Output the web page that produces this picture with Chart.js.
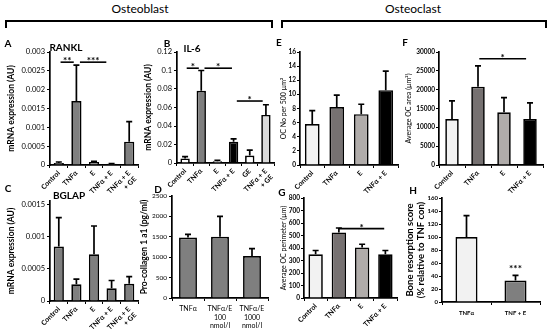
<!DOCTYPE html>
<html><head><meta charset="utf-8">
<script src="https://cdn.jsdelivr.net/npm/chart.js@4.4.0/dist/chart.umd.min.js"></script>
<style>
html,body{margin:0;padding:0;background:#fff;}
#wrap{position:relative;width:550px;height:335px;overflow:hidden;font-family:Lato,'Open Sans',sans-serif;color:#000;}
canvas{position:absolute;}
.t{position:absolute;transform:translate(-50%,-50%);white-space:nowrap;line-height:1;}
.ln{position:absolute;background:#000;}
</style></head><body><div id="wrap"></div>
<script>
// ---------------- DATA ----------------
const catsA = ['Control', 'TNFα', 'E', 'TNFα + E', ['TNFα + E', '+ GE']];
const rankl = [0.00005, 0.0017, 0.00008, 0.00003, 0.00062];
const ranklErr = [0.00003, 0.00095, 0.00002, 0.00001, 0.00053];

const catsB = ['Control', 'TNFα', 'E', 'TNFα + E', 'GE', ['TNFα + E', '+ GE']];
const il6 = [0.005, 0.078, 0.002, 0.023, 0.008, 0.052];
const il6Err = [0.002, 0.022, 0.001, 0.003, 0.006, 0.011];

const catsC = ['Control', 'TNFα', 'E', 'TNFα + E', ['TNFα + E', '+ GE']];
const bglap = [0.00085, 0.00026, 0.00073, 0.0002, 0.00027];
const bglapErr = [0.00045, 0.00008, 0.00044, 0.00012, 0.00011];

const catsD = ['TNFα', ['TNFα/E', '100', 'nmol/l'], ['TNFα/E', '1000', 'nmol/l']];
const procol = [1480, 1500, 1030];
const procolErr = [80, 500, 180];

const catsOC = ['Control', 'TNFα', 'E', 'TNFα + E'];
const ocNo = [5.8, 8.2, 7.2, 10.6];
const ocNoErr = [1.9, 1.7, 1.4, 2.7];
const ocArea = [12200, 20800, 14000, 12200];
const ocAreaErr = [4800, 5500, 3900, 4300];
const ocPerim = [350, 525, 405, 350];
const ocPerimErr = [30, 35, 25, 30];

const catsH = ['TNFα', 'TNF + E'];
const resorption = [100, 33];
const resorptionErr = [33, 8];

// significance annotations (category index range, value level, label)
const sigA = [{from: 0.1, to: 0.85, y: 0.00273, text: '**'}, {from: 1.2, to: 2.7, y: 0.00273, text: '***'}];
const sigB = [{from: 0.1, to: 0.85, y: 0.1025, text: '*'}, {from: 1.2, to: 2.9, y: 0.1025, text: '*'}, {from: 3.2, to: 4.8, y: 0.067, text: '*'}];
const sigF = [{from: 1.05, to: 2.85, y: 28200, text: '*'}];
const sigG = [{from: 1.0, to: 2.95, y: 555, text: '*'}];
const sigH = [{at: 1, y: 50, text: '***'}];

// ---------------- HELPERS ----------------
const FONT = "Lato, 'Open Sans', sans-serif";
Chart.defaults.font.family = FONT;
Chart.defaults.color = '#000';
const wrap = document.getElementById('wrap');

function txt(s, x, y, size, bold, extra) {
  const d = document.createElement('div');
  d.className = 't';
  d.textContent = s;
  d.style.left = x + 'px'; d.style.top = y + 'px';
  d.style.fontSize = size + 'px';
  d.style.fontWeight = bold ? '700' : '400';
  if (extra) Object.assign(d.style, extra);
  wrap.appendChild(d);
}
function line(x, y, w, h) {
  const d = document.createElement('div');
  d.className = 'ln';
  d.style.left = x + 'px'; d.style.top = y + 'px';
  d.style.width = w + 'px'; d.style.height = h + 'px';
  wrap.appendChild(d);
}

function makeChart(o) {
  const c = document.createElement('canvas');
  c.width = o.box.w; c.height = o.box.h;
  c.style.left = o.box.l + 'px'; c.style.top = o.box.t + 'px';
  c.style.width = o.box.w + 'px'; c.style.height = o.box.h + 'px';
  wrap.appendChild(c);
  const errPlugin = {
    id: 'errbars',
    afterDatasetsDraw(chart) {
      const ctx = chart.ctx, ys = chart.scales.y;
      const meta = chart.getDatasetMeta(0);
      ctx.save();
      ctx.strokeStyle = '#000'; ctx.lineWidth = 1.7;
      meta.data.forEach((el, i) => {
        const top = ys.getPixelForValue(o.values[i] + o.err[i]);
        ctx.beginPath();
        ctx.moveTo(el.x, el.y); ctx.lineTo(el.x, top);
        ctx.moveTo(el.x - o.cap, top); ctx.lineTo(el.x + o.cap, top);
        ctx.stroke();
      });
      ctx.restore();
    }
  };
  const sigPlugin = {
    id: 'sig',
    afterDraw(chart) {
      if (!o.sig) return;
      const ctx = chart.ctx, xs = chart.scales.x, ys = chart.scales.y;
      ctx.save();
      ctx.strokeStyle = '#000'; ctx.fillStyle = '#000'; ctx.lineWidth = 1.6;
      ctx.font = '700 10px ' + FONT; ctx.textAlign = 'center'; ctx.textBaseline = 'alphabetic';
      o.sig.forEach(s => {
        const y = ys.getPixelForValue(s.y);
        let cx;
        if (s.at !== undefined) {
          cx = xs.getPixelForValue(s.at);
        } else {
          const x1 = xs.getPixelForValue(s.from), x2 = xs.getPixelForValue(s.to);
          ctx.beginPath(); ctx.moveTo(x1, y); ctx.lineTo(x2, y); ctx.stroke();
          cx = (x1 + x2) / 2;
        }
        ctx.fillText(s.text, cx, y + 2);
      });
      ctx.restore();
    }
  };
  return new Chart(c, {
    type: 'bar',
    data: {
      labels: o.labels,
      datasets: [{
        data: o.values,
        backgroundColor: o.colors,
        borderColor: '#000',
        borderWidth: 1.7,
        categoryPercentage: 1,
        barPercentage: o.barPct
      }]
    },
    options: {
      responsive: false,
      animation: false,
      events: [],
      layout: {padding: {top: o.box.pt, right: o.box.pr, left: 0, bottom: 0}},
      plugins: {legend: {display: false}, tooltip: {enabled: false}},
      scales: {
        x: {
          type: 'category',
          grid: {display: true, drawOnChartArea: false, tickLength: 3, color: '#000', lineWidth: 1},
          border: {display: true, color: '#000', width: 1.7},
          ticks: {
            autoSkip: false,
            minRotation: o.rot, maxRotation: o.rot,
            padding: o.xpad !== undefined ? o.xpad : 1,
            font: o.xfont,
            color: '#000'
          },
          afterFit(s) { s.height = o.box.xh; s.paddingLeft = 0; s.paddingRight = 0; }
        },
        y: {
          min: 0, max: o.max,
          grid: {display: true, drawOnChartArea: false, tickLength: 3, color: '#000', lineWidth: 1},
          border: {display: true, color: '#000', width: 1.7},
          ticks: {
            stepSize: o.step,
            padding: o.ypad !== undefined ? o.ypad : 2,
            font: o.yfont,
            color: '#000',
            callback: v => String(+Number(v).toFixed(6))
          },
          afterBuildTicks(s) {
            const t = [];
            for (let k = 0; k * o.step <= o.max * (1 + 1e-9); k++) t.push({value: +(k * o.step).toFixed(8)});
            s.ticks = t;
          },
          title: {display: true, text: o.title, font: o.tfont, padding: {top: o.tpad, bottom: 0}, color: '#000'},
          afterFit(s) { s.width = o.box.yw; s.paddingTop = 0; s.paddingBottom = 0; }
        }
      }
    },
    plugins: [errPlugin, sigPlugin]
  });
}

// ---------------- COLOURS ----------------
const G = '#7f7f7f', W = '#ffffff', LG = '#d9d9d9', K = '#000000';
const OC = ['#f2f2f2', '#767171', '#b0acaa', '#000000'];

// ---------------- HEADINGS ----------------
txt('Osteoblast', 140, 9, 12, false);
line(5, 20, 268, 2); line(5, 20, 2, 8); line(271, 20, 2, 8);
txt('Osteoclast', 413, 9, 12, false);
line(281, 20, 266, 2); line(281, 20, 2, 8); line(545, 20, 2, 8);

// ---------------- PANELS ----------------
makeChart({
  box: {l: 0, t: 46, w: 140, h: 157, yw: 50, xh: 38, pt: 6, pr: 2},
  labels: catsA, values: rankl, err: ranklErr, colors: [G, G, G, G, G], barPct: 0.58, cap: 3,
  max: 0.003, step: 0.0005, rot: 45,
  xfont: {size: 7, weight: '700'}, yfont: {size: 7.5},
  title: 'mRNA expression (AU)', tfont: {size: 8.5, weight: '700'}, tpad: 6, sig: sigA
});
makeChart({
  box: {l: 137, t: 46, w: 139, h: 157, yw: 40, xh: 40, pt: 6, pr: 2},
  labels: catsB, values: il6, err: il6Err, colors: [W, G, W, K, W, LG], barPct: 0.58, cap: 3,
  max: 0.12, step: 0.02, rot: 45,
  xfont: {size: 7, weight: '700'}, yfont: {size: 7.5},
  title: 'mRNA expression (AU)', tfont: {size: 8.5, weight: '700'}, tpad: 6, sig: sigB
});
makeChart({
  box: {l: 0, t: 195, w: 140, h: 140, yw: 50, xh: 34, pt: 6, pr: 2},
  labels: catsC, values: bglap, err: bglapErr, colors: [G, G, G, G, G], barPct: 0.58, cap: 3,
  max: 0.00156, step: 0.0005, rot: 45,
  xfont: {size: 7, weight: '700'}, yfont: {size: 7.5},
  title: 'mRNA expression (AU)', tfont: {size: 8.5, weight: '700'}, tpad: 6
});
makeChart({
  box: {l: 137, t: 190, w: 136, h: 145, yw: 35, xh: 37, pt: 6, pr: 5},
  labels: catsD, values: procol, err: procolErr, colors: [G, G, G], barPct: 0.56, cap: 3,
  max: 2500, step: 500, rot: 0, xpad: 4,
  xfont: {size: 7}, yfont: {size: 6.5},
  title: 'Pro-collagen 1 a1 (pg/ml)', tfont: {size: 8.5, weight: '700'}, tpad: 2
});
makeChart({
  box: {l: 277, t: 46, w: 124, h: 157, yw: 23, xh: 38, pt: 6, pr: 3},
  labels: catsOC, values: ocNo, err: ocNoErr, colors: OC, barPct: 0.6, cap: 3,
  max: 16, step: 2, rot: 45, ypad: 1,
  xfont: {size: 7, weight: '700'}, yfont: {size: 6.5, weight: '700'},
  title: 'OC No per 500 µm²', tfont: {size: 7}, tpad: 3
});
makeChart({
  box: {l: 404, t: 46, w: 144, h: 157, yw: 35, xh: 38, pt: 6, pr: 5},
  labels: catsOC, values: ocArea, err: ocAreaErr, colors: OC, barPct: 0.52, cap: 3,
  max: 30000, step: 5000, rot: 45, ypad: 1,
  xfont: {size: 7, weight: '700'}, yfont: {size: 6.5, weight: '700'},
  title: 'Average OC area (µm²)', tfont: {size: 7}, tpad: 1, sig: sigF
});
makeChart({
  box: {l: 277, t: 192, w: 123, h: 143, yw: 27, xh: 37, pt: 6, pr: 3},
  labels: catsOC, values: ocPerim, err: ocPerimErr, colors: OC, barPct: 0.62, cap: 3,
  max: 800, step: 100, rot: 45, ypad: 1,
  xfont: {size: 7, weight: '700'}, yfont: {size: 6.5, weight: '700'},
  title: 'Average OC perimeter (µm)', tfont: {size: 7}, tpad: 3, sig: sigG
});
makeChart({
  box: {l: 402, t: 192, w: 144, h: 143, yw: 40, xh: 33, pt: 6, pr: 6},
  labels: catsH, values: resorption, err: resorptionErr, colors: ['#f2f2f2', G], barPct: 0.45, cap: 3,
  max: 160, step: 20, rot: 0, xpad: 4, ypad: 1,
  xfont: {size: 6, weight: '700'}, yfont: {size: 6, weight: '700'},
  title: ['Bone resorption score', '(% relative to TNF con)'], tfont: {size: 9.5, weight: '700'}, tpad: 2, sig: sigH
});

// ---------------- PANEL LETTERS / GENE NAMES ----------------
txt('A', 8, 43, 10, true);
txt('B', 167, 43, 10, true);
txt('C', 8, 188, 10, true);
txt('D', 158, 189, 10, true);
txt('E', 279, 42, 10, true);
txt('F', 405, 42, 10, true);
txt('G', 282, 192, 10, true);
txt('H', 413, 190, 10, true);
txt('RANKL', 66, 47, 10, true);
txt('IL-6', 192, 48, 10, true);
txt('BGLAP', 69, 195, 10, true);
</script></body></html>
